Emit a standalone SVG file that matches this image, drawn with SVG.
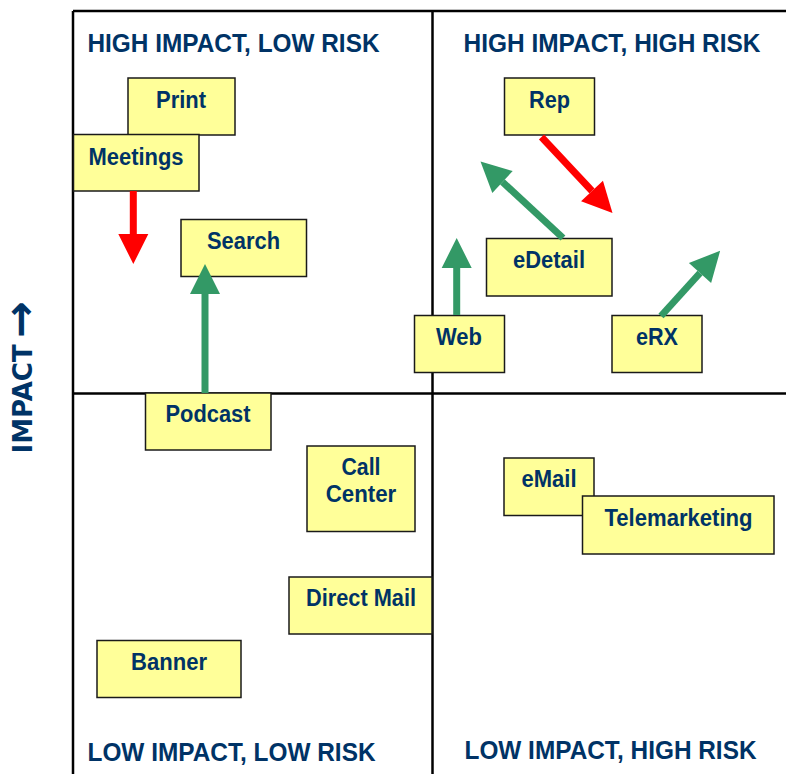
<svg xmlns="http://www.w3.org/2000/svg" width="786" height="774" viewBox="0 0 786 774">
  <style>
    .frame { stroke: #000; stroke-width: 2.5; fill: none; }
    .box { fill: #ffff99; stroke: #1a1a1a; stroke-width: 1.5; }
    .lbl { font-family: "Liberation Sans", Arial, sans-serif; font-weight: bold; font-size: 23px; fill: #003366; text-anchor: middle; }
    .head { font-family: "Liberation Sans", Arial, sans-serif; font-weight: bold; font-size: 25px; fill: #003366; }
    .axis { font-family: "DejaVu Sans", Verdana, sans-serif; font-weight: bold; font-size: 26px; fill: #003366; }
    .axis-arrow { font-size: 44px; }
    .up { stroke: #339966; stroke-width: 7; fill: none; }
    .down { stroke: #ff0000; stroke-width: 7; fill: none; }
  </style>
  <defs>
    <marker id="headGreen" markerUnits="userSpaceOnUse" markerWidth="30" markerHeight="30" refX="0" refY="15" orient="auto" overflow="visible">
      <path d="M0,0 L30,15 L0,30 z" fill="#339966"/>
    </marker>
    <marker id="headRed" markerUnits="userSpaceOnUse" markerWidth="30" markerHeight="30" refX="0" refY="15" orient="auto" overflow="visible">
      <path d="M0,0 L30,15 L0,30 z" fill="#ff0000"/>
    </marker>
  </defs>

  <rect width="786" height="774" fill="#fff"/>

  <!-- quadrant grid -->
  <g id="grid">
    <line class="frame" x1="73" y1="11" x2="786" y2="11"/>
    <line class="frame" x1="73" y1="11" x2="73" y2="774"/>
    <line class="frame" x1="432.5" y1="11" x2="432.5" y2="774"/>
    <line class="frame" x1="73" y1="393.5" x2="786" y2="393.5"/>
  </g>

  <!-- quadrant headings -->
  <g id="headings">
    <text class="head" x="87.5" y="51.5" textLength="292" lengthAdjust="spacingAndGlyphs">HIGH IMPACT, LOW RISK</text>
    <text class="head" x="463.5" y="51.5" textLength="297" lengthAdjust="spacingAndGlyphs">HIGH IMPACT, HIGH RISK</text>
    <text class="head" x="87.5" y="761" textLength="288" lengthAdjust="spacingAndGlyphs">LOW IMPACT, LOW RISK</text>
    <text class="head" x="464.5" y="758.5" textLength="292" lengthAdjust="spacingAndGlyphs">LOW IMPACT, HIGH RISK</text>
  </g>

  <!-- vertical axis label -->
  <g id="axis">
    <text class="axis" transform="translate(32,453.5) rotate(-90)" x="0" y="0">IMPACT<tspan class="axis-arrow" dx="6" dy="3">→</tspan></text>
  </g>

  <!-- channels -->
  <g id="print">
    <rect class="box" x="128" y="78" width="107" height="57"/>
    <text class="lbl" x="181" y="107.5" textLength="50" lengthAdjust="spacingAndGlyphs">Print</text>
  </g>
  <g id="meetings">
    <rect class="box" x="73.5" y="134.5" width="125.5" height="56.5"/>
    <text class="lbl" x="136" y="164.5" textLength="95" lengthAdjust="spacingAndGlyphs">Meetings</text>
  </g>
  <g id="search">
    <rect class="box" x="181" y="219.5" width="125.5" height="57"/>
    <text class="lbl" x="243.5" y="249" textLength="73" lengthAdjust="spacingAndGlyphs">Search</text>
  </g>
  <g id="podcast">
    <rect class="box" x="145.5" y="393" width="125.5" height="57"/>
    <text class="lbl" x="208" y="422" textLength="85" lengthAdjust="spacingAndGlyphs">Podcast</text>
  </g>
  <g id="call-center">
    <rect class="box" x="307" y="446" width="108" height="85.5"/>
    <text class="lbl" x="361" y="475" textLength="39" lengthAdjust="spacingAndGlyphs">Call</text>
    <text class="lbl" x="361" y="502" textLength="70.5" lengthAdjust="spacingAndGlyphs">Center</text>
  </g>
  <g id="direct-mail">
    <rect class="box" x="289" y="577" width="143" height="57"/>
    <text class="lbl" x="361" y="606" textLength="110" lengthAdjust="spacingAndGlyphs">Direct Mail</text>
  </g>
  <g id="banner">
    <rect class="box" x="97" y="640.5" width="144" height="57"/>
    <text class="lbl" x="169" y="670" textLength="76" lengthAdjust="spacingAndGlyphs">Banner</text>
  </g>
  <g id="rep">
    <rect class="box" x="504.5" y="78" width="90" height="57"/>
    <text class="lbl" x="549.5" y="107.5" textLength="41" lengthAdjust="spacingAndGlyphs">Rep</text>
  </g>
  <g id="edetail">
    <rect class="box" x="486.5" y="238.5" width="125.5" height="57.5"/>
    <text class="lbl" x="549" y="268" textLength="72" lengthAdjust="spacingAndGlyphs">eDetail</text>
  </g>
  <g id="web">
    <rect class="box" x="414.5" y="315.5" width="90" height="57"/>
    <text class="lbl" x="459" y="345" textLength="46" lengthAdjust="spacingAndGlyphs">Web</text>
  </g>
  <g id="erx">
    <rect class="box" x="612" y="315.5" width="90" height="57"/>
    <text class="lbl" x="657" y="345" textLength="42" lengthAdjust="spacingAndGlyphs">eRX</text>
  </g>
  <g id="email">
    <rect class="box" x="504" y="458" width="90" height="57.5"/>
    <text class="lbl" x="549" y="487" textLength="55" lengthAdjust="spacingAndGlyphs">eMail</text>
  </g>
  <g id="telemarketing">
    <rect class="box" x="582.5" y="496" width="191.5" height="58"/>
    <text class="lbl" x="678.5" y="526" textLength="148" lengthAdjust="spacingAndGlyphs">Telemarketing</text>
  </g>

  <!-- movement arrows -->
  <g id="connectors">
    <line class="down" x1="133.3" y1="191" x2="133.3" y2="234" marker-end="url(#headRed)"/>
    <line class="up" x1="205" y1="393" x2="205" y2="294" marker-end="url(#headGreen)"/>
    <line class="up" x1="456.7" y1="315" x2="456.7" y2="268" marker-end="url(#headGreen)"/>
    <line class="down" x1="541.5" y1="137" x2="592" y2="191" marker-end="url(#headRed)"/>
    <line class="up" x1="563" y1="238" x2="502.5" y2="182" marker-end="url(#headGreen)"/>
    <line class="up" x1="661" y1="316" x2="700" y2="273" marker-end="url(#headGreen)"/>
  </g>
</svg>
